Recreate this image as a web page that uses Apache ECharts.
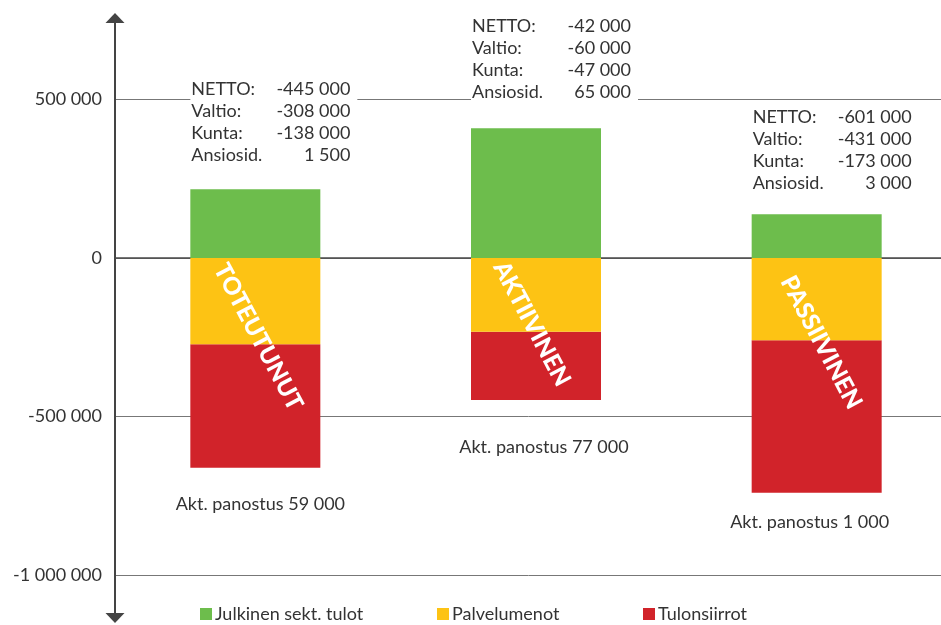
<!DOCTYPE html>
<html>
<head>
<meta charset="utf-8">
<script src="https://cdn.jsdelivr.net/npm/echarts@6/dist/echarts.min.js"></script>
<style>
html,body{margin:0;padding:0;background:#fff;}
#chart{width:941px;height:625px;}
</style>
</head>
<body>
<div id="chart"></div>
<script>
// ---- data ----
const categories = ['TOTEUTUNUT', 'AKTIIVINEN', 'PASSIIVINEN'];
const seriesNames = ['Julkinen sekt. tulot', 'Palvelumenot', 'Tulonsiirrot'];
const julkinen = [217000, 409000, 138000];
const palvelumenot = [-272000, -233000, -260000];
const tulonsiirrot = [-390000, -215000, -481000];
const netto = [-445000, -42000, -601000];
const valtio = [-308000, -60000, -431000];
const kunta = [-138000, -47000, -173000];
const ansiosid = [1500, 65000, 3000];
const panostus = [59000, 77000, 1000];

// ---- layout tweaks (not data) ----
const blockLift = [-23, -25, -20];
const nameOffset = [[-5, -6], [-9, 0], [4, -3]];
const panostusOffset = [[5, 36], [8, 47], [-7, 29]];

function fmt(v) {
  const s = String(Math.abs(v)).replace(/\B(?=(\d{3})+(?!\d))/g, ' ');
  return (v < 0 ? '-' : '') + s;
}

const FONT = 'Lato';
const TXT = '#333';
const FS = 18;
const colors = ['#6dbd4c', '#fdc314', '#d1232a'];

const chart = echarts.init(document.getElementById('chart'), null, {renderer: 'canvas'});

const option = {
  animation: false,
  textStyle: {fontFamily: FONT, color: TXT},
  color: colors,
  grid: {left: 115, right: -16, top: 18, bottom: 7, containLabel: false, outerBoundsMode: 'none'},
  legend: [0, 1, 2].map((i) => ({
    data: [seriesNames[i]],
    left: [200, 437, 643][i],
    top: 605,
    padding: 0,
    itemWidth: 12,
    itemHeight: 12,
    icon: 'rect',
    textStyle: {fontFamily: FONT, fontSize: FS, color: TXT, padding: [0, 0, 0, -2]}
  })),
  xAxis: {
    type: 'category',
    data: categories,
    axisLine: {onZero: true, lineStyle: {color: '#4a4a4a', width: 1.5}},
    axisTick: {show: false},
    axisLabel: {show: false},
    splitLine: {show: false}
  },
  yAxis: {
    type: 'value',
    min: -1136000,
    max: 757000,
    splitNumber: 4,
    minInterval: 500000,
    maxInterval: 500000,
    axisLine: {
      show: true,
      lineStyle: {color: '#444', width: 2},
      symbol: ['triangle', 'triangle'],
      symbolSize: [19, 10]
    },
    axisTick: {show: false},
    axisLabel: {
      showMinLabel: false,
      showMaxLabel: false,
      margin: 13,
      fontSize: FS,
      color: TXT,
      fontFamily: FONT,
      formatter: (v) => fmt(v)
    },
    splitLine: {
      show: true,
      showMinLine: false,
      showMaxLine: false,
      lineStyle: {color: '#777', width: 1}
    }
  },
  series: [
    {
      name: seriesNames[0],
      type: 'bar',
      stack: 'total',
      barWidth: 130,
      data: julkinen.map((v, i) => ({
        value: v,
        label: {offset: [0, blockLift[i]]}
      })),
      label: {
        show: true,
        position: [0, 0],
        align: 'left',
        verticalAlign: 'bottom',
        backgroundColor: '#fff',
        padding: [0, 7, 0, 1],
        fontFamily: FONT,
        fontSize: FS,
        lineHeight: 22,
        color: TXT,
        formatter: (p) => {
          const i = p.dataIndex;
          return [
            '{a|NETTO:}{b|' + fmt(netto[i]) + '}',
            '{a|Valtio:}{b|' + fmt(valtio[i]) + '}',
            '{a|Kunta:}{b|' + fmt(kunta[i]) + '}',
            '{a|Ansiosid.}{b|' + fmt(ansiosid[i]) + '}'
          ].join('\n');
        },
        rich: {
          a: {width: 72, fontFamily: FONT, fontSize: FS, lineHeight: 22, color: TXT},
          b: {width: 87, align: 'right', fontFamily: FONT, fontSize: FS, lineHeight: 22, color: TXT}
        }
      }
    },
    {
      name: seriesNames[1],
      type: 'bar',
      stack: 'total',
      barWidth: 130,
      data: palvelumenot.map((v, i) => ({
        value: v,
        label: {offset: nameOffset[i]}
      })),
      label: {
        show: true,
        position: ['50%', '100%'],
        align: 'center',
        verticalAlign: 'middle',
        rotate: -62,
        fontFamily: FONT,
        fontWeight: 900,
        fontSize: 24,
        color: '#fff',
        formatter: (p) => categories[p.dataIndex]
      },
      z: 2
    },
    {
      name: seriesNames[2],
      type: 'bar',
      stack: 'total',
      barWidth: 130,
      z: 1,
      data: tulonsiirrot.map((v, i) => ({
        value: v,
        label: {offset: panostusOffset[i]}
      })),
      label: {
        show: true,
        position: ['50%', '100%'],
        align: 'center',
        verticalAlign: 'middle',
        fontFamily: FONT,
        fontSize: FS,
        color: TXT,
        formatter: (p) => 'Akt. panostus ' + fmt(panostus[p.dataIndex])
      }
    }
  ]
};

chart.setOption(option);
</script>
</body>
</html>
